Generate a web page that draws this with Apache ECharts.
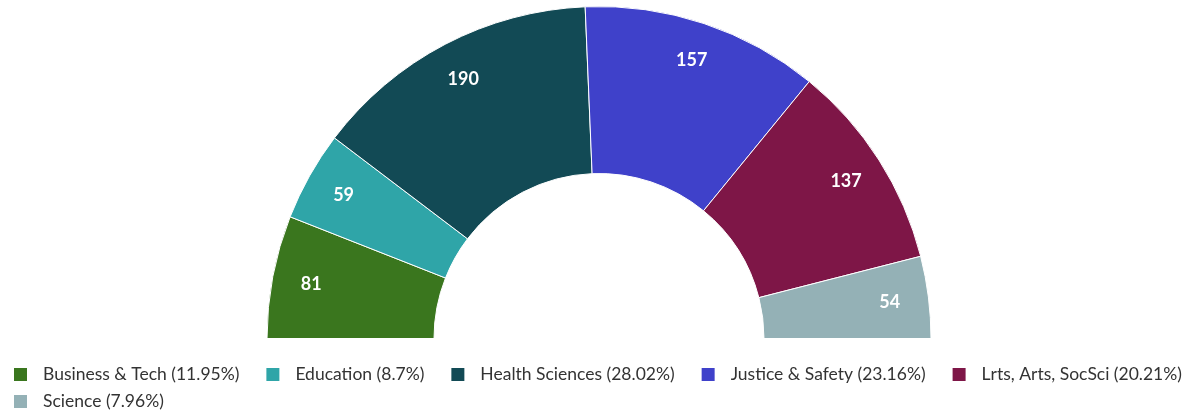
<!DOCTYPE html>
<html lang="en">
  <head>
    <meta charset="UTF-8" />
    <title>Programs</title>
    <script src="https://cdn.jsdelivr.net/npm/echarts@6/dist/echarts.min.js"></script>
    <style>
      html, body { margin: 0; padding: 0; background: #fff; }
      #main { width: 1200px; height: 415px; }
    </style>
  </head>
  <body>
    <div id="main"></div>
    <script>
      var names = ["Business & Tech", "Education", "Health Sciences", "Justice & Safety", "Lrts, Arts, SocSci", "Science"];
      var values = [81, 59, 190, 157, 137, 54];
      var colors = ["#3a761e", "#2fa5a8", "#124a55", "#3f41ca", "#7e1647", "#94b1b6"];

      var total = values.reduce(function (a, b) { return a + b; }, 0);
      var pieData = [];
      var pct = {};
      for (var i = 0; i < names.length; i++) {
        pieData.push({ name: names[i], value: values[i] });
        pct[names[i]] = Math.round(values[i] / total * 10000) / 100;
      }

      var myChart = echarts.init(document.getElementById("main"));
      var option = {
        backgroundColor: "#fff",
        color: colors,
        animation: false,
        legend: {
          left: 7,
          top: 359,
          width: 1215,
          itemWidth: 15,
          itemHeight: 15,
          itemGap: 6,
          icon: "rect",
          textStyle: {
            fontFamily: "Lato",
            fontSize: 17.5,
            color: "#333",
            lineHeight: 21,
            padding: [0, 19, 0, 10]
          },
          formatter: function (n) { return n + " (" + pct[n] + "%)"; }
        },
        series: [
          {
            // the ring itself
            type: "pie",
            center: [599, 338.5],
            radius: [165, 332],
            startAngle: 180,
            endAngle: 0,
            itemStyle: { borderColor: "#fff", borderWidth: 1 },
            label: { show: false },
            labelLine: { show: false },
            emphasis: { scale: false },
            data: pieData
          },
          {
            // transparent copy, only used to put the value labels further out
            type: "pie",
            silent: true,
            center: [599, 338.5],
            radius: [248, 332],
            startAngle: 180,
            endAngle: 0,
            itemStyle: { color: "rgba(0,0,0,0)" },
            label: {
              show: true,
              position: "inside",
              formatter: "{c}",
              color: "#fff",
              fontFamily: "Lato",
              fontWeight: "bold",
              fontSize: 18
            },
            labelLine: { show: false },
            data: pieData
          }
        ]
      };
      myChart.setOption(option);
    </script>
  </body>
</html>
